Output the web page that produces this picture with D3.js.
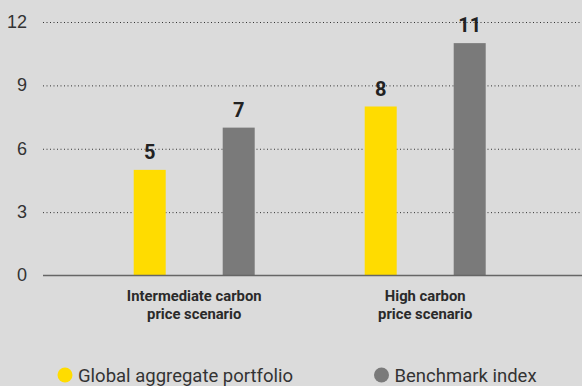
<!DOCTYPE html>
<html>
<head>
<meta charset="utf-8">
<script src="https://cdn.jsdelivr.net/npm/d3@7"></script>
<style>
  html, body { margin: 0; padding: 0; background: #dbdbdb; }
  svg { display: block; font-family: Roboto, "Noto Sans", sans-serif; }
</style>
</head>
<body>
<svg id="chart" width="582" height="386"></svg>
<script>
// Scenario categories (two label lines each)
const categories = ["Intermediate carbon price scenario", "High carbon price scenario"];
const categoryLines = [["Intermediate carbon", "price scenario"], ["High carbon", "price scenario"]];
const seriesNames = ["Global aggregate portfolio", "Benchmark index"];
const portfolioValues = [5, 8];
const benchmarkValues = [7, 11];
const yTicks = [0, 3, 6, 9, 12];
const seriesColors = ["#ffdc00", "#7a7a7a"];

const svg = d3.select("#chart");

const plotLeft = 43, plotRight = 582, plotTop = 22, plotBottom = 275.5;

const y = d3.scaleLinear().domain([0, 12]).range([plotBottom, plotTop]);

// Category bands (centres of the two bar pairs)
const x0 = d3.scaleBand()
  .domain(categories)
  .range([78.7, 540.7])
  .padding(0);

// Bars inside each pair, positioned around the band centre
const x1 = d3.scaleBand()
  .domain(seriesNames)
  .range([-60.5, 60.5])
  .paddingInner(57 / 89)
  .paddingOuter(0);

// Dotted gridlines with tick labels
const yAxis = d3.axisLeft(y)
  .tickValues(yTicks)
  .tickSize(-(plotRight - plotLeft))
  .tickPadding(16)
  .tickFormat(d3.format("d"));

const gy = svg.append("g")
  .attr("transform", `translate(${plotLeft},0)`)
  .call(yAxis);
gy.select(".domain").remove();
gy.selectAll(".tick line")
  .attr("stroke", "#333")
  .attr("stroke-width", 1)
  .attr("stroke-dasharray", "1,2.5")
  .attr("opacity", d => d === 0 ? 0 : 1);
gy.selectAll(".tick text")
  .attr("fill", "#333")
  .attr("font-size", 18)
  .attr("font-weight", 400)
  .attr("dy", "0.3em");

// Data rows
const rows = categories.map((c, i) => ({
  category: c,
  lines: categoryLines[i],
  values: [
    { series: seriesNames[0], value: portfolioValues[i], color: seriesColors[0] },
    { series: seriesNames[1], value: benchmarkValues[i], color: seriesColors[1] }
  ]
}));

const groups = svg.append("g").selectAll("g.group")
  .data(rows)
  .join("g")
  .attr("class", "group")
  .attr("transform", d => `translate(${x0(d.category) + x0.bandwidth() / 2},0)`);

groups.selectAll("rect")
  .data(d => d.values)
  .join("rect")
  .attr("x", d => x1(d.series))
  .attr("width", x1.bandwidth())
  .attr("y", d => y(d.value))
  .attr("height", d => y(0) - y(d.value))
  .attr("fill", d => d.color);

groups.selectAll("text.value")
  .data(d => d.values)
  .join("text")
  .attr("class", "value")
  .attr("x", d => x1(d.series) + x1.bandwidth() / 2)
  .attr("y", d => y(d.value) - 11)
  .attr("text-anchor", "middle")
  .attr("font-size", 20)
  .attr("font-weight", 700)
  .attr("fill", "#222")
  .text(d => d3.format("d")(d.value));

// Baseline axis
svg.append("line")
  .attr("x1", plotLeft).attr("x2", plotRight)
  .attr("y1", y(0)).attr("y2", y(0))
  .attr("stroke", "#666")
  .attr("stroke-width", 1.5);

// Category labels
groups.selectAll("text.cat")
  .data(d => d.lines)
  .join("text")
  .attr("class", "cat")
  .attr("x", 0)
  .attr("y", (d, i) => 301 + i * 17.5)
  .attr("text-anchor", "middle")
  .attr("font-size", 14.8)
  .attr("font-weight", 700)
  .attr("fill", "#2a2a2a")
  .text(d => d);

// Legend
const legendX = [65, 381.5];
const legend = svg.append("g").selectAll("g")
  .data(seriesNames)
  .join("g")
  .attr("transform", (d, i) => `translate(${legendX[i]},375)`);
legend.append("circle")
  .attr("r", 7.5)
  .attr("fill", (d, i) => seriesColors[i]);
legend.append("text")
  .attr("x", 13)
  .attr("y", 7)
  .attr("font-size", 18.5)
  .attr("fill", "#333")
  .text(d => d);
</script>
</body>
</html>
